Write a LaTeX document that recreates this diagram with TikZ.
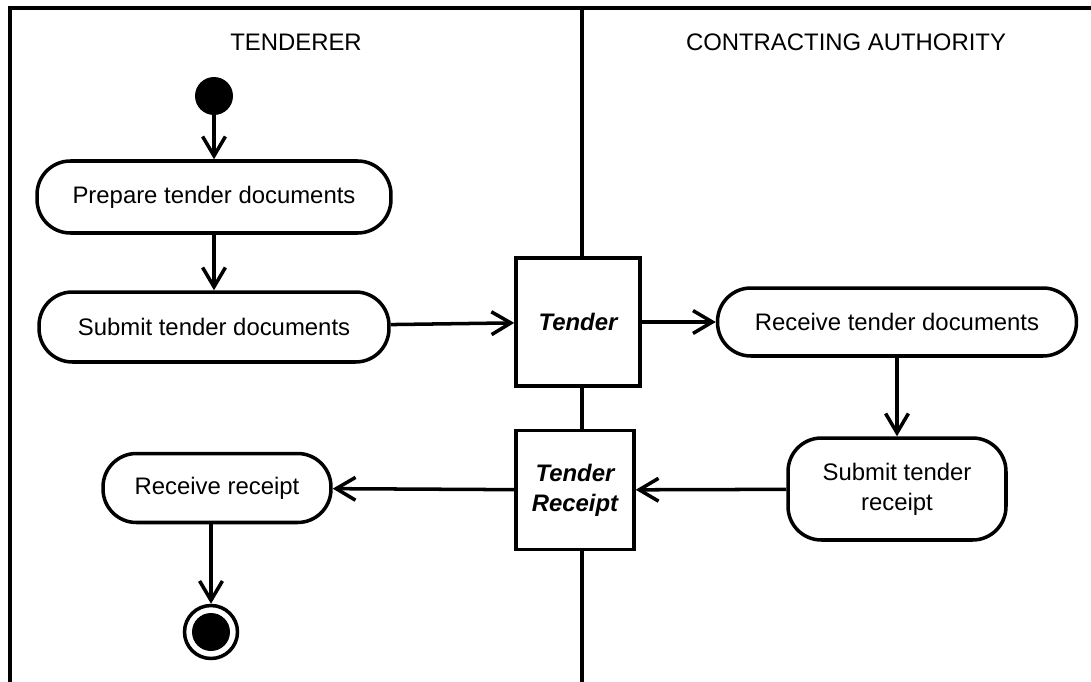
\documentclass[tikz,border=0pt]{standalone}
\usepackage{fontspec}
\setmainfont{Liberation Sans}
\usetikzlibrary{arrows.meta}

\tikzset{
    every node/.style={font=\fontsize{13.6}{17}\selectfont, align=center},
    lane/.style={line width=2pt},
    action/.style={draw, line width=2pt, rounded corners=19pt, inner sep=0pt},
    object/.style={draw, line width=2pt, inner sep=0pt, font=\fontsize{13.6}{17}\selectfont\bfseries\itshape},
    flow/.style={line width=2pt, -{Straight Barb[length=11pt,width=13pt,line width=2pt]}},
    initial/.style={circle, fill, minimum size=0.76cm, inner sep=0pt},
    final/.style={circle, draw, line width=2pt, minimum size=1.06cm, inner sep=0pt,
        path picture={\fill (path picture bounding box.center) circle (0.38cm);}}
}

\begin{document}
\begin{tikzpicture}[x=0.02cm, y=-0.02cm]
    \useasboundingbox (0,0) rectangle (1091,682);
    \draw[lane] (10,682) -- (10,8) -- (1091,8);
    \draw[lane] (582,8) -- (582,682);

    \node (tenderer) at (296,42) {TENDERER};
    \node (authority) at (846,42) {CONTRACTING AUTHORITY};

    \node[initial] (start) at (214,96) {};
    \node[action, minimum width=7.08cm, minimum height=1.44cm] (prepare) at (214,197) {Prepare tender documents};
    \node[action, minimum width=7.0cm, minimum height=1.4cm] (submit) at (214,327) {Submit tender documents};
    \node[object, fill=white, minimum width=2.48cm, minimum height=2.56cm] (tender) at (578,322) {Tender};
    \node[action, minimum width=7.18cm, minimum height=1.36cm] (receive) at (897,322) {Receive tender documents};
    \node[action, minimum width=4.36cm, minimum height=2.04cm] (subreceipt) at (897,489) {Submit tender\\receipt};
    \node[object, fill=white, minimum width=2.36cm, minimum height=2.38cm] (receipt) at (575,490) {Tender\\Receipt};
    \node[action, minimum width=4.56cm, minimum height=1.38cm] (getreceipt) at (217,488) {Receive receipt};
    \node[final] (end) at (211,632) {};

    \draw[flow] (start) -- (prepare);
    \draw[flow] (prepare) -- (submit);
    \draw[flow] (submit) -- (tender);
    \draw[flow] (tender) -- (receive);
    \draw[flow] (receive) -- (subreceipt);
    \draw[flow] (subreceipt) -- (receipt);
    \draw[flow] (receipt) -- (getreceipt);
    \draw[flow] (getreceipt.south -| end.north) -- (end);
\end{tikzpicture}
\end{document}
